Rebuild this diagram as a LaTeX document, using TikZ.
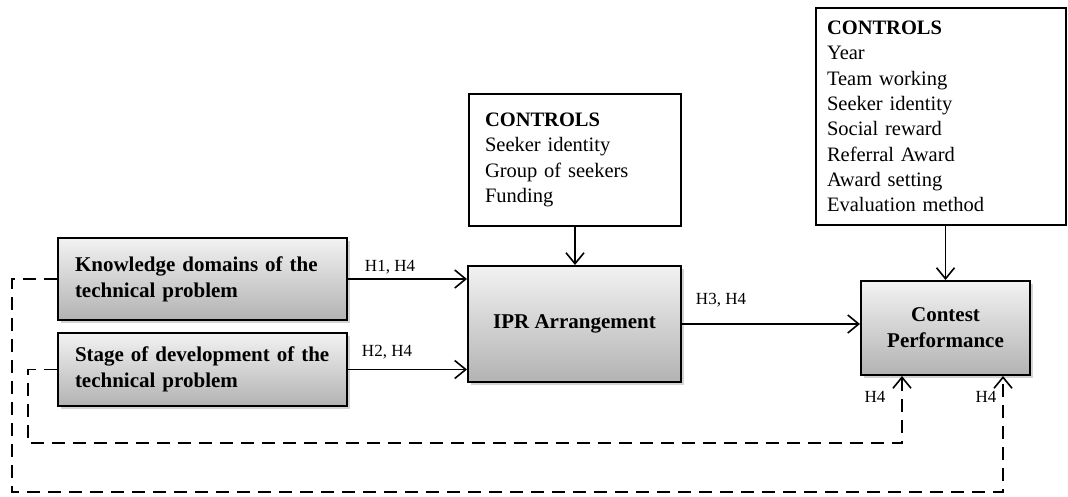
\documentclass[tikz,border=0pt]{standalone}
\usepackage{fontspec}
\setmainfont{Liberation Serif}
\usetikzlibrary{arrows.meta,shadows}

\tikzset{
  varbox/.style={draw=black, line width=2pt,
    top color=gray!10, bottom color=gray!60,
    drop shadow={shadow xshift=3pt, shadow yshift=-3pt, opacity=0.35, fill=gray},
    font=\fontsize{21}{26}\selectfont\bfseries, inner ysep=0pt},
  ctrlbox/.style={draw=black, line width=1.2pt, fill=white, align=left,
    font=\fontsize{20.5}{25.3}\selectfont, inner ysep=0pt},
  link/.style={line width=1.6pt, -{Straight Barb[length=11pt,width=18pt,line width=1.6pt]}},
  dlink/.style={link, line width=1.8pt, dash pattern=on 13pt off 8pt},
  hyp/.style={font=\fontsize{17}{19}\selectfont, inner sep=0pt}
}

\begin{document}
\begin{tikzpicture}[x=1pt,y=-1pt]
\useasboundingbox (0,0) rectangle (1068,496);

% variable boxes
\node[varbox, text width=255pt, inner xsep=17pt, minimum height=82pt, align=left]
  (know) at (202.5,279) {Knowledge domains of the\\technical problem};
\node[varbox, text width=255pt, inner xsep=17pt, minimum height=73pt, align=left]
  (stage) at (202.5,369.5) {Stage of development of the\\technical problem};
\node[varbox, minimum width=213pt, minimum height=116pt, align=center]
  (ipr) at (574.5,324) {IPR Arrangement};
\node[varbox, minimum width=169pt, minimum height=94pt, align=center]
  (perf) at (945.5,328) {Contest\\Performance};

% control boxes
\node[ctrlbox, text width=180pt, inner xsep=16pt, minimum height=132pt]
  (ctrlA) at (575,160) {\textbf{CONTROLS}\\Seeker identity\\Group of seekers\\Funding};
\node[ctrlbox, text width=228pt, inner xsep=11pt, minimum height=217pt]
  (ctrlB) at (941,116.5) {\textbf{CONTROLS}\\Year\\Team working\\Seeker identity\\Social reward\\Referral Award\\Award setting\\Evaluation method};

% direct effects
\draw[link] (know.east) -- (know.east -| ipr.west);
\draw[link] (stage.east) -- (stage.east -| ipr.west);
\draw[link] (ipr.east) -- (ipr.east -| perf.west);
\draw[link] (ctrlA.south) -- (ctrlA.south |- ipr.north);
\draw[link] (perf.north |- ctrlB.south) -- (perf.north);

\node[hyp] (h14) at (390,267) {H1, H4};
\node[hyp] (h24) at (387,352) {H2, H4};
\node[hyp] (h34) at (721,300) {H3, H4};

% moderating paths (dashed)
\coordinate (inA) at (28,443);
\coordinate (inB) at (902,443);
\coordinate (outA) at (12,492);
\coordinate (outB) at (1003,492);
\draw[dlink] (stage.west) -| (inA) -- (inB) -- (inB |- perf.south);
\draw[dlink] (know.west) -| (outA) -- (outB) -- (outB |- perf.south);

\node[hyp] (h4a) at (875,397) {H4};
\node[hyp] (h4b) at (986,397) {H4};
\end{tikzpicture}
\end{document}
